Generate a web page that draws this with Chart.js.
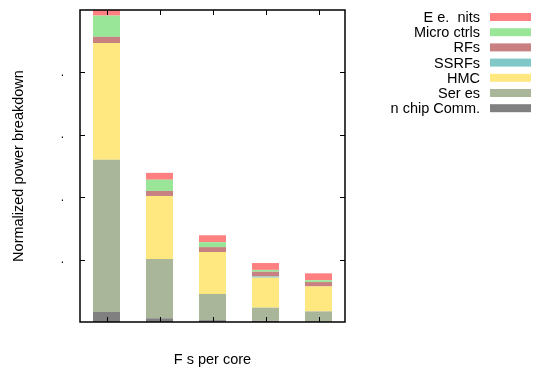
<!DOCTYPE html>
<html>
<head>
<meta charset="UTF-8">
<title>Normalized power breakdown</title>
<script src="https://cdn.jsdelivr.net/npm/chart.js"></script>
<style>
    html, body { margin: 0; padding: 0; background: #fff; }
    #box { width: 536px; height: 369px; }
</style>
</head>
<body>
<div id="box"><canvas id="chart"></canvas></div>
<script>
// categories (x tick labels are not shown in the picture)
const categories = ["1", "2", "4", "8", "16"];

// stacked series, bottom to top
const onChipComm  = [0.16, 0.06, 0.03, 0.02, 0.01];
const serdes      = [2.44, 0.95, 0.42, 0.21, 0.16];
const hmc         = [1.87, 1.01, 0.67, 0.48, 0.40];
const ssrfs       = [0.00, 0.00, 0.00, 0.02, 0.00];
const rfs         = [0.10, 0.08, 0.08, 0.075, 0.07];
const microCtrls  = [0.34, 0.18, 0.08, 0.03, 0.03];
const energyUnits = [0.10, 0.11, 0.11, 0.11, 0.11];

const yTicks = [0, 1, 2, 3, 4, 5];
const yTickLabels = ["", ".", ".", ".", ".", ""];

const FONT = "'Liberation Sans', Arial, sans-serif";

function ds(label, data, color) {
    return { label: label, data: data, backgroundColor: color, borderWidth: 0,
             categoryPercentage: 1.0, barPercentage: 0.51 };
}

// gnuplot style frame, inward ticks and legend
const framePlugin = {
    id: "frame",
    afterDatasetsDraw(chart) {
        const ctx = chart.ctx, a = chart.chartArea;
        const xs = chart.scales.x, ys = chart.scales.y;
        ctx.save();
        ctx.strokeStyle = "#000";
        ctx.lineWidth = 1;
        ctx.beginPath();
        yTicks.slice(1, -1).forEach(v => {
            const y = Math.round(ys.getPixelForValue(v)) + 0.5;
            ctx.moveTo(a.left, y); ctx.lineTo(a.left + 5, y);
            ctx.moveTo(a.right, y); ctx.lineTo(a.right - 5, y);
        });
        categories.forEach((c, i) => {
            const x = Math.round(xs.getPixelForValue(i)) + 0.5;
            ctx.moveTo(x, a.top); ctx.lineTo(x, a.top + 5);
            ctx.moveTo(x, a.bottom); ctx.lineTo(x, a.bottom - 5);
        });
        ctx.stroke();
        ctx.lineWidth = 1.5;
        ctx.strokeRect(a.left, a.top, a.right - a.left, a.bottom - a.top);

        // legend, top entry = top of stack
        ctx.font = "14.5px " + FONT;
        ctx.textAlign = "right";
        ctx.textBaseline = "middle";
        const sets = chart.data.datasets.slice().reverse();
        sets.forEach((d, i) => {
            const y = 17 + 15.2 * i;
            ctx.fillStyle = "#000";
            ctx.fillText(d.label, 480, y + 1);
            ctx.fillStyle = d.backgroundColor;
            ctx.fillRect(490, y - 4, 41, 8);
        });
        ctx.restore();
    }
};

new Chart(document.getElementById("chart"), {
    type: "bar",
    data: {
        labels: categories,
        datasets: [
            ds("n chip Comm.", onChipComm, "#808080"),
            ds("Ser es", serdes, "#aab699"),
            ds("HMC", hmc, "#ffe880"),
            ds("SSRFs", ssrfs, "#80c8c8"),
            ds("RFs", rfs, "#c88080"),
            ds("Micro ctrls", microCtrls, "#99e699"),
            ds("E e.  nits", energyUnits, "#ff8080")
        ]
    },
    options: {
        responsive: true,
        maintainAspectRatio: false,
        animation: false,
        layout: { padding: { top: 10, right: 191, left: 0, bottom: 0 } },
        plugins: { legend: { display: false }, tooltip: { enabled: false } },
        scales: {
            x: {
                stacked: true,
                grid: { display: false },
                border: { display: false },
                ticks: { display: false },
                title: { display: true, text: "F s per core", color: "#000",
                         font: { family: FONT, size: 14.5 }, padding: { top: -1, bottom: 0 } },
                afterFit(s) { s.height = 47; }
            },
            y: {
                stacked: true,
                min: 0, max: 5,
                afterBuildTicks(s) { s.ticks = yTicks.map(v => ({ value: v })); },
                grid: { display: false },
                border: { display: false },
                ticks: {
                    color: "#000", padding: 8,
                    font: c => ({ family: FONT, size: yTickLabels[c.index] ? 12 : 1 }),
                    callback: (v, i) => yTickLabels[i]
                },
                title: { display: true, text: "Normalized power breakdown", color: "#000",
                         font: { family: FONT, size: 14.5 }, padding: { top: 10, bottom: 0 } },
                afterFit(s) { s.width = 80; }
            }
        }
    },
    plugins: [framePlugin]
});
</script>
</body>
</html>
